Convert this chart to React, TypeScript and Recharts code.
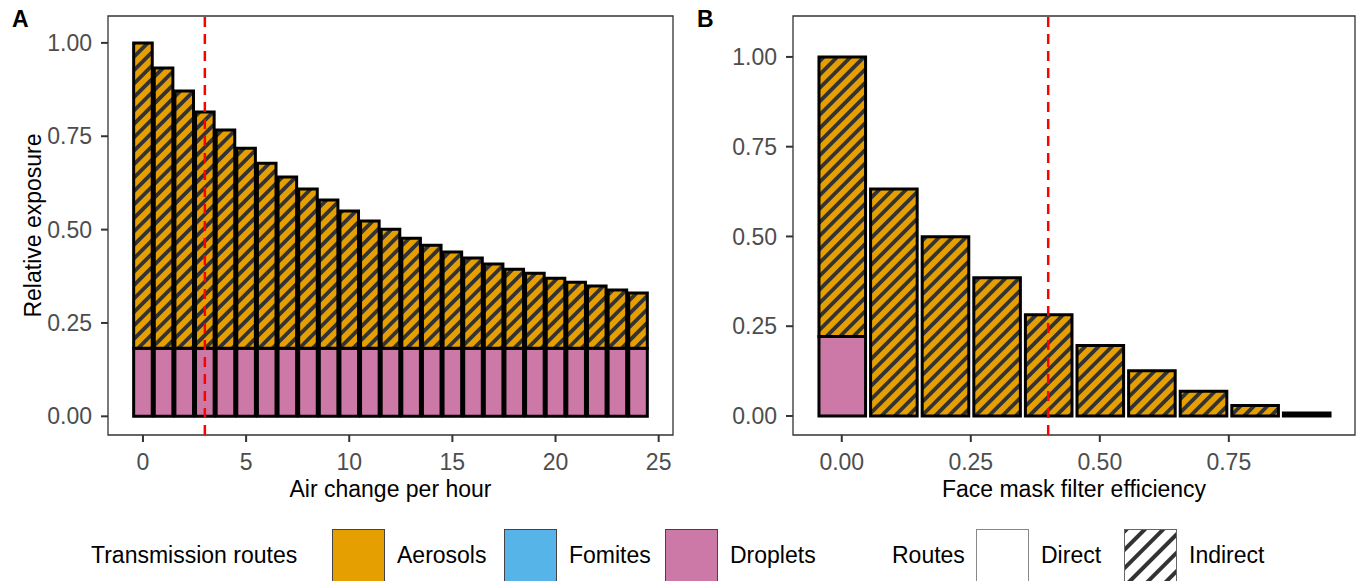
import { BarChart, Bar, XAxis, YAxis, ReferenceLine, ReferenceArea } from 'recharts';

// panel A: air changes per hour
const airChanges = [0, 1, 2, 3, 4, 5, 6, 7, 8, 9, 10, 11, 12, 13, 14, 15, 16, 17, 18, 19, 20, 21, 22, 23, 24];
const dropletsA = [0.182, 0.182, 0.182, 0.182, 0.182, 0.182, 0.182, 0.182, 0.182, 0.182, 0.182, 0.182, 0.182,
  0.182, 0.182, 0.182, 0.182, 0.182, 0.182, 0.182, 0.182, 0.182, 0.182, 0.182, 0.182];
const aerosolsA = [0.818, 0.751, 0.689, 0.633, 0.585, 0.536, 0.496, 0.459, 0.427, 0.397, 0.368, 0.341, 0.319,
  0.295, 0.276, 0.258, 0.242, 0.226, 0.212, 0.201, 0.188, 0.177, 0.167, 0.156, 0.148];

// panel B: face mask filter efficiency
const maskEfficiency = [0, 0.1, 0.2, 0.3, 0.4, 0.5, 0.6, 0.7, 0.8, 0.9];
const dropletsB = [0.221, 0, 0, 0, 0, 0, 0, 0, 0, 0];
const aerosolsB = [0.779, 0.632, 0.499, 0.385, 0.282, 0.196, 0.126, 0.069, 0.029, 0.008];

const yTicks = [0, 0.25, 0.5, 0.75, 1];
const xTicksA = [0, 5, 10, 15, 20, 25];
const xTicksB = [0, 0.25, 0.5, 0.75];
const cutoffA = 3;
const cutoffB = 0.4;

const routeNames = ['Aerosols', 'Fomites', 'Droplets'];
const routeColors = ['#E69F00', '#56B4E9', '#CC79A7'];
const routeKinds = ['Direct', 'Indirect'];

const rowsA = airChanges.map((x, i) => ({ x, droplets: dropletsA[i], aerosols: aerosolsA[i] }));
const rowsB = maskEfficiency.map((x, i) => ({ x, droplets: dropletsB[i], aerosols: aerosolsB[i] }));

const FONT = '"Liberation Sans", Arial, sans-serif';
const tickStyle = { fill: '#4D4D4D', fontSize: 23 };
const titleStyle = { fill: '#000', fontSize: 23 };

function Hatch({ id, bg }: { id: string; bg: string }) {
  return (
    <defs>
      <pattern id={id} patternUnits="userSpaceOnUse" width={9.5} height={9.5} patternTransform="rotate(45)">
        <rect width={9.5} height={9.5} fill={bg} />
        <rect width={3.8} height={9.5} fill="#333333" />
      </pattern>
    </defs>
  );
}

function Panel({ rows, xDomain, yDomain, xTicks, xFormat, barSize, cutoff, xTitle, yTitle, width, margin, yWidth, hatchId }: any) {
  return (
    <BarChart width={width} height={520} data={rows} margin={margin} barSize={barSize} barGap={0}>
      <Hatch id={hatchId} bg={routeColors[0]} />
      <XAxis
        type="number"
        dataKey="x"
        domain={xDomain}
        allowDataOverflow
        ticks={xTicks}
        tickFormatter={xFormat}
        interval={0}
        axisLine={false}
        tickLine={{ stroke: '#333', strokeWidth: 2 }}
        tickSize={7}
        tickMargin={12}
        tick={tickStyle}
        height={85}
        label={{ value: xTitle, position: 'insideBottom', offset: 23, ...titleStyle }}
      />
      <YAxis
        type="number"
        domain={yDomain}
        allowDataOverflow
        ticks={yTicks}
        tickFormatter={(v: number) => v.toFixed(2)}
        interval={0}
        axisLine={false}
        tickLine={{ stroke: '#333', strokeWidth: 2 }}
        tickSize={7}
        tickMargin={9}
        tick={tickStyle}
        width={yWidth}
        label={yTitle ? { value: yTitle, angle: -90, position: 'insideLeft', offset: 10, style: { textAnchor: 'middle' }, ...titleStyle } : undefined}
      />
      <Bar dataKey="droplets" stackId="r" fill={routeColors[2]} stroke="#000" strokeWidth={3} isAnimationActive={false} />
      <Bar dataKey="aerosols" stackId="r" fill={`url(#${hatchId})`} stroke="#000" strokeWidth={3} isAnimationActive={false} />
      <ReferenceLine x={cutoff} stroke="#FF0000" strokeWidth={2.5} strokeDasharray="10 7" ifOverflow="visible" />
      <ReferenceArea x1={xDomain[0]} x2={xDomain[1]} y1={yDomain[0]} y2={yDomain[1]} fill="none" stroke="#333" strokeWidth={1.3} ifOverflow="visible" />
    </BarChart>
  );
}

function Swatch({ kind, color }: { kind: string; color: string }) {
  if (kind === 'Indirect') {
    return (
      <svg width={53} height={53}>
        <defs>
          <pattern id="legendHatch" patternUnits="userSpaceOnUse" width={13} height={13} patternTransform="rotate(45)">
            <rect width={13} height={13} fill="#fff" />
            <rect width={4} height={13} fill="#333" />
          </pattern>
        </defs>
        <rect x={0.5} y={0.5} width={52} height={52} fill="url(#legendHatch)" stroke="#666" strokeWidth={1} />
      </svg>
    );
  }
  return (
    <svg width={53} height={53}>
      <rect x={0.5} y={0.5} width={52} height={52} fill={color} stroke={kind === 'Direct' ? '#888' : '#444'} strokeWidth={1} />
    </svg>
  );
}

export default function App() {
  const fmtB = (v: number) => v.toFixed(2);
  const lbl = (left: number, text: string) => (
    <div key={text + left} style={{ position: 'absolute', left, top: 529, height: 52, display: 'flex', alignItems: 'center', fontSize: 23, color: '#000' }}>
      {text}
    </div>
  );
  const box = (left: number, kind: string, color: string) => (
    <div key={kind + left} style={{ position: 'absolute', left, top: 529 }}>
      <Swatch kind={kind} color={color} />
    </div>
  );
  return (
    <div style={{ position: 'absolute', left: 0, top: 0, width: 1357, height: 581, overflow: 'hidden', background: '#fff', fontFamily: FONT }}>
      <div style={{ position: 'absolute', left: 0, top: 0 }}>
        <Panel
          rows={rowsA}
          xDomain={[-1.695, 25.695]}
          yDomain={[-0.05, 1.072]}
          xTicks={xTicksA}
          xFormat={(v: number) => String(v)}
          barSize={18.6}
          cutoff={cutoffA}
          xTitle="Air change per hour"
          yTitle="Relative exposure"
          width={690}
          margin={{ top: 16, right: 17, left: 23, bottom: 0 }}
          yWidth={85}
          hatchId="hatchA"
        />
      </div>
      <div style={{ position: 'absolute', left: 690, top: 0 }}>
        <Panel
          rows={rowsB}
          xDomain={[-0.0945, 0.9945]}
          yDomain={[-0.053, 1.114]}
          xTicks={xTicksB}
          xFormat={fmtB}
          barSize={46.6}
          cutoff={cutoffB}
          xTitle="Face mask filter efficiency"
          width={667}
          margin={{ top: 16, right: 2, left: 33, bottom: 0 }}
          yWidth={70}
          hatchId="hatchB"
        />
      </div>
      <div style={{ position: 'absolute', left: 12, top: 6, fontSize: 23, fontWeight: 'bold' }}>A</div>
      <div style={{ position: 'absolute', left: 697, top: 6, fontSize: 23, fontWeight: 'bold' }}>B</div>

      {lbl(91, 'Transmission routes')}
      {box(332, routeNames[0], routeColors[0])}
      {lbl(397, routeNames[0])}
      {box(504, routeNames[1], routeColors[1])}
      {lbl(569, routeNames[1])}
      {box(665, routeNames[2], routeColors[2])}
      {lbl(730, routeNames[2])}
      {lbl(892, 'Routes')}
      {box(976, routeKinds[0], '#fff')}
      {lbl(1041, routeKinds[0])}
      {box(1124, routeKinds[1], '#fff')}
      {lbl(1189, routeKinds[1])}
    </div>
  );
}
